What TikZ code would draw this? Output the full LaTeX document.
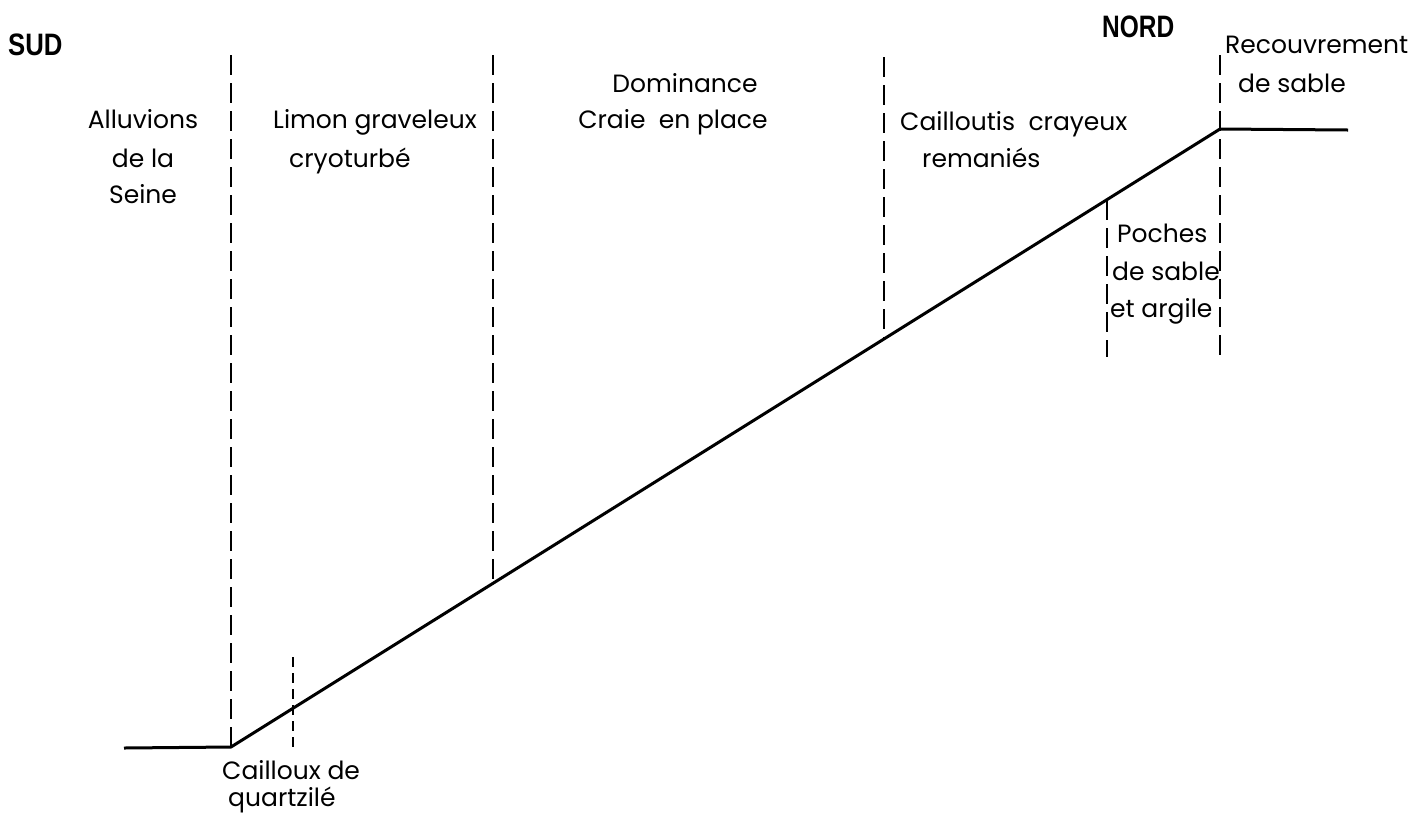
\documentclass[tikz,border=0pt]{standalone}
\usepackage{fontspec}
\setmainfont{Poppins}
\newfontfamily\headfont{Liberation Sans}
\begin{document}
\begin{tikzpicture}[x=1pt,y=-1pt,
  lbl/.style={inner sep=0pt, anchor=base west, font=\fontsize{25}{28}\selectfont},
  lblc/.style={inner sep=0pt, anchor=base, font=\fontsize{25}{28}\selectfont},
  head/.style={inner sep=0pt, anchor=base west, font=\headfont\bfseries\fontsize{31}{34}\selectfont},
  ground/.style={line width=3pt, line join=round},
  limit/.style={line width=1.8pt, dash pattern=on 20pt off 8pt},
  sublimit/.style={line width=1.3pt, dash pattern=on 10pt off 6pt}]
\useasboundingbox (0,0) rectangle (1418,815);
% ground profile
\coordinate (g0) at (124,748);
\coordinate (g1) at (231,747);
\coordinate (g2) at (1220,129);
\coordinate (g3) at (1348,130);
\draw[ground] (g0) -- (g1) -- (g2) -- (g3);
% points on slope
\coordinate (s2) at (493,582);
\coordinate (s3) at (884,338);
\coordinate (s4) at (1107,200);
% top / bottom ends of limits
\coordinate (t1) at (231,55);
\coordinate (t2) at (493,55);
\coordinate (t3) at (884,57);
\coordinate (b4) at (1107,357);
\coordinate (t5) at (1220,55);
\coordinate (b5) at (1220,357);
\coordinate (t6) at (293,657);
\coordinate (b6) at (293,750);
\draw[limit] (t1) -- (g1);
\draw[limit] (t2) -- (s2);
\draw[limit] (t3) -- (s3);
\draw[limit] (s4) -- (b4);
\draw[limit] (t5) -- (b5);
\draw[sublimit] (t6) -- (b6);
% headings
\node[head] (sud) at (8,55) {\scalebox{0.83}[1]{SUD}};
\node[head] (nord) at (1102,37) {\scalebox{0.79}[1]{NORD}};
% labels
\node[lblc] (al1) at (143,128) {Alluvions};
\node[lblc] (al2) at (143,167) {de la};
\node[lblc] (al3) at (143,203) {Seine};
\node[lbl] (li1) at (273,128) {Limon graveleux};
\node[lbl] (li2) at (289,167) {cryoturbé};
\node[lblc] (do1) at (685,92) {Dominance};
\node[lblc] (do2) at (673,128) {Craie\ \ en place};
\node[lbl] (ca1) at (900,130) {Cailloutis\ \ crayeux};
\node[lbl] (ca2) at (922,167) {remaniés};
\node[lbl] (re1) at (1225,53) {Recouvrement};
\node[lbl] (re2) at (1238,92) {de sable};
\node[lbl] (po1) at (1117,242) {Poches};
\node[lbl] (po2) at (1112,280) {de sable};
\node[lbl] (po3) at (1110,317) {et argile};
\node[lbl] (cq1) at (222,779) {Cailloux de};
\node[lbl] (cq2) at (228,806) {quartzilé};
\end{tikzpicture}
\end{document}
